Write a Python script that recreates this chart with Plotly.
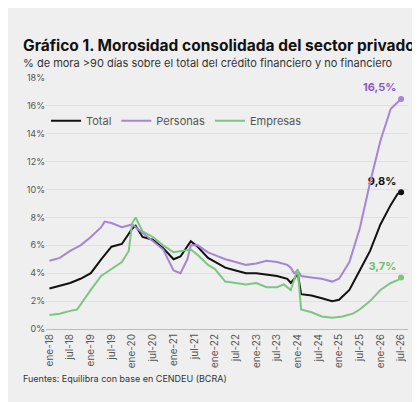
import plotly.graph_objects as go

tick_labels = []
for y in range(18, 27):
    tick_labels += [f"ene-{y}", f"jul-{y}"]
tick_months = list(range(0, 103, 6))

total_m = [0,3,6,9,12,15,18,21,24,25,27,30,33,36,38,41,43,46,48,51,54,57,60,63,66,69,70,71,72,73,76,79,82,84,87,90,93,96,99,101,102]
total_v = [2.9,3.1,3.3,3.6,4.0,5.0,5.9,6.1,7.2,7.4,6.6,6.4,5.8,5.0,5.2,6.3,5.9,5.1,4.8,4.4,4.2,4.0,4.0,3.9,3.8,3.6,3.3,3.6,4.0,2.5,2.4,2.2,2.0,2.1,2.8,4.2,5.6,7.5,8.9,9.7,9.8]
pers_m = [0,3,6,9,12,15,16,18,21,24,27,30,33,36,38,40,41,43,46,48,51,54,57,60,63,66,69,70,71,72,73,76,79,82,84,87,90,93,96,99,101,102]
pers_v = [4.9,5.1,5.6,6.0,6.6,7.3,7.7,7.6,7.3,7.5,6.9,6.3,5.7,4.2,4.0,5.0,6.0,6.0,5.5,5.3,5.0,4.8,4.6,4.7,4.9,4.8,4.6,4.4,4.0,4.2,3.8,3.7,3.6,3.4,3.6,4.8,7.2,10.5,13.5,15.8,16.3,16.5]
emp_m = [0,3,6,8,12,15,18,21,23,24,25,27,30,33,36,39,41,43,46,48,51,54,57,60,63,66,68,70,72,73,76,79,82,85,88,90,93,96,99,101,102]
emp_v = [1.0,1.1,1.3,1.4,2.8,3.8,4.3,4.8,5.6,7.6,8.0,7.0,6.6,6.0,5.5,5.6,5.7,5.3,4.6,4.3,3.4,3.3,3.2,3.3,3.0,3.0,3.2,2.8,4.3,1.4,1.2,0.9,0.8,0.9,1.1,1.4,2.0,2.8,3.3,3.5,3.7]

series = [
    ("Total", total_m, total_v, "#111111", "#111111", "9,8%"),
    ("Personas", pers_m, pers_v, "#a485d8", "#8a5cc9", "16,5%"),
    ("Empresas", emp_m, emp_v, "#7dc682", "#6bbf70", "3,7%"),
]

fig = go.Figure()
for name, m, v, col, lcol, lab in series:
    fig.add_trace(go.Scatter(x=m, y=v, mode="lines", name=name,
                             line=dict(color=col, width=2)))
    fig.add_trace(go.Scatter(x=[m[-1]], y=[v[-1]], mode="markers+text",
                             text=[f"<b>{lab}</b>"], textposition="top left",
                             textfont=dict(color=lcol, size=11, family="Inter"),
                             marker=dict(color=col, size=6), showlegend=False,
                             cliponaxis=False))

fig.update_layout(
    width=420, height=402,
    paper_bgcolor="#efefef", plot_bgcolor="#efefef",
    margin=dict(l=38, r=20, t=70, b=81),
    font=dict(family="Inter", size=10, color="#444"),
    showlegend=True,
    legend=dict(orientation="h", x=0.0, y=0.83, xanchor="left", yanchor="middle",
                bgcolor="rgba(0,0,0,0)", font=dict(size=11, color="#555"),
                itemwidth=30, tracegroupgap=0),
    xaxis=dict(tickvals=tick_months, ticktext=tick_labels, tickangle=-90,
               range=[-1, 104], showgrid=False, zeroline=False,
               showline=True, linecolor="#bbbbbb", tickfont=dict(size=10, color="#555")),
    yaxis=dict(range=[0, 18], dtick=2, ticksuffix="%", gridcolor="#e0e0e0",
               zeroline=False, tickfont=dict(size=9, color="#555")),
    annotations=[
        dict(text="<b>Gráfico 1. Morosidad consolidada del sector privado</b>",
             xref="paper", yref="paper", x=-0.07, y=1.0, yshift=44, xanchor="left",
             showarrow=False, font=dict(size=15.5, color="#111", family="Inter")),
        dict(text="% de mora >90 días sobre el total del crédito financiero y no financiero",
             xref="paper", yref="paper", x=-0.07, y=1.0, yshift=24, xanchor="left",
             showarrow=False, font=dict(size=11, color="#333", family="Inter")),
        dict(text="Fuentes: Equilibra con base en CENDEU (BCRA)",
             xref="paper", yref="paper", x=-0.07, y=0, yshift=-57, xanchor="left",
             showarrow=False, font=dict(size=9, color="#333", family="Inter")),
    ],
)
fig.write_html("out.html")
